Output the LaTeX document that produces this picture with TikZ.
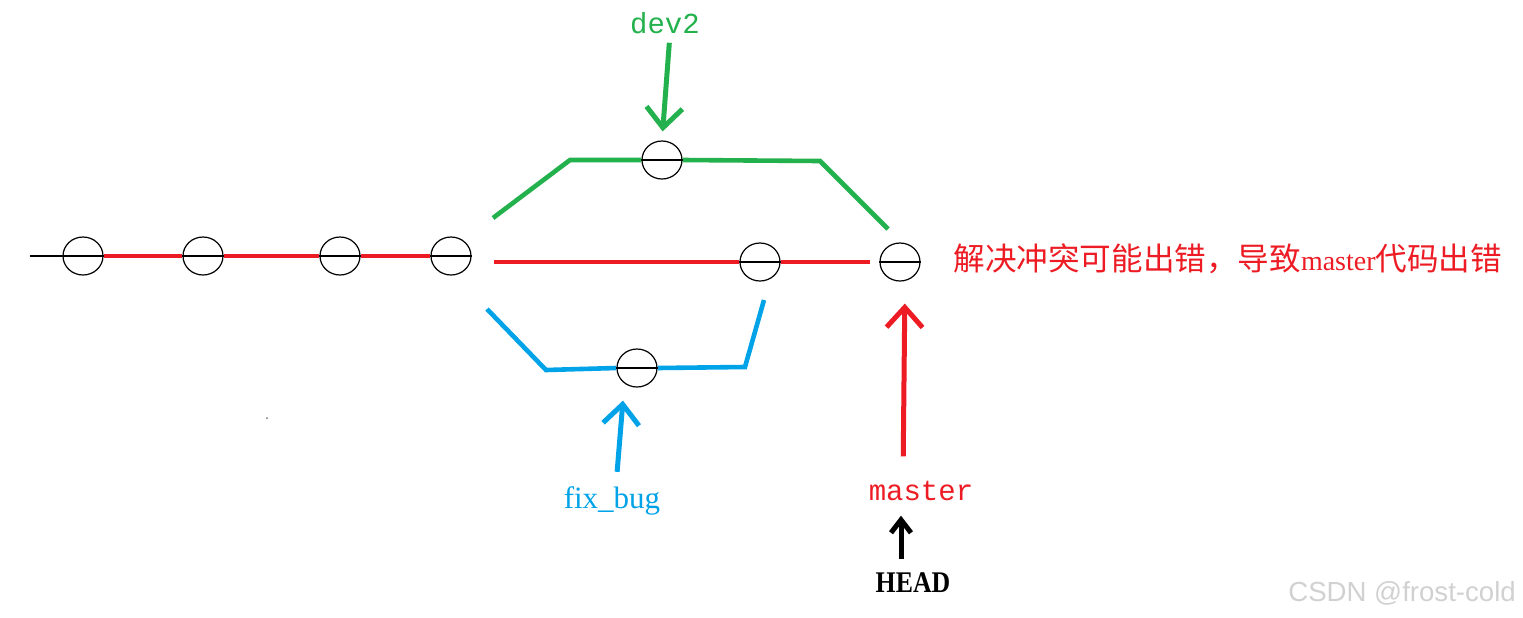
\documentclass[tikz,border=0pt]{standalone}
\usepackage{fontspec}
\setmainfont{Liberation Serif}
\newfontfamily\monofont{Liberation Mono}
\newfontfamily\cjk{Noto Sans CJK SC}
\newfontfamily\wmfont{Liberation Sans}
\usetikzlibrary{shapes.geometric,arrows.meta}
\definecolor{pgreen}{HTML}{22B14C}
\definecolor{pred}{HTML}{ED1C24}
\definecolor{pblue}{HTML}{00A2E8}
\tikzset{
  commit/.style={ellipse, draw=black, line width=0.6pt, minimum width=20pt, minimum height=19pt, inner sep=0pt},
  diam/.style={draw=black, line width=0.8pt},
  branchline/.style={line width=2.3pt, line join=miter},
  label/.style={inner sep=0pt, anchor=base},
  pointer/.style={line width=2.5pt, -{Straight Barb[length=10pt, width=18pt, line width=2.5pt]}},
  smallpointer/.style={line width=2.5pt, -{Straight Barb[length=6.5pt, width=10pt, line width=2.5pt]}},
}
\begin{document}
\begin{tikzpicture}[x=0.5pt, y=-0.5pt]
  \useasboundingbox (0,0) rectangle (1523,617);

  % commits on the main line
  \node[commit] (c1) at (83,256) {};
  \node[commit] (c2) at (203,256) {};
  \node[commit] (c3) at (340,256) {};
  \node[commit] (c4) at (451,256) {};
  % commits after the split
  \node[commit] (d1) at (662,160) {};
  \node[commit] (c6) at (760,262) {};
  \node[commit] (f1) at (637,368) {};
  \node[commit] (c7) at (900,262) {};

  % history before the first commit
  \coordinate (start) at (30,256);
  \draw[line width=1pt] (start) -- (c1.west);

  % master line
  \draw[branchline, pred] (c1.east) -- (c2.west);
  \draw[branchline, pred] (c2.east) -- (c3.west);
  \draw[branchline, pred] (c3.east) -- (c4.west);
  \coordinate (r0) at (494,262);
  \coordinate (r1) at (870,262);
  \draw[branchline, pred] (r0) -- (c6.west);
  \draw[branchline, pred] (c6.east) -- (r1);

  % dev2 branch
  \coordinate (g0) at (493,218);
  \coordinate (g1) at (570,160);
  \coordinate (g2) at (820,161);
  \coordinate (g3) at (888,229);
  \draw[branchline, pgreen] (g0) -- (g1) -- (d1.west);
  \draw[branchline, pgreen] (d1.east) -- (g2) -- (g3);

  % fix_bug branch
  \coordinate (b0) at (487,309);
  \coordinate (b1) at (546,370);
  \coordinate (b2) at (745,367);
  \coordinate (b3) at (764,300);
  \draw[branchline, pblue] (b0) -- (b1) -- (f1.west);
  \draw[branchline, pblue] (f1.east) -- (b2) -- (b3);

  % diameters inside the commits
  \foreach \n in {c1,c2,c3,c4,d1,c6,f1,c7}
    \draw[diam] (\n.west) -- (\n.east);

  % labels
  \node[label, text=pgreen, font=\monofont\fontsize{14.5pt}{16pt}\selectfont] (dev2) at (665,33) {dev2};
  \node[label, text=pblue, font=\fontsize{15.5pt}{17pt}\selectfont] (fixbug) at (612,508) {fix\_bug};
  \node[label, text=pred, font=\monofont\fontsize{14.5pt}{16pt}\selectfont] (master) at (921,500) {master};
  \node[label, text=black, font=\bfseries\fontsize{15pt}{17pt}\selectfont, xscale=0.86] (head) at (913,592) {HEAD};
  \node[inner sep=0pt, anchor=base west, text=pred, font=\cjk\fontsize{15.8pt}{17pt}\selectfont] (note) at (953,270)
    {解决冲突可能出错，导致{\rmfamily\fontsize{14pt}{16pt}\selectfont master}代码出错};
  \node[inner sep=0pt, anchor=base west, text=black!18, font=\wmfont\fontsize{13.8pt}{16pt}\selectfont] (wm) at (1288,601) {CSDN @frost-cold};

  % branch pointers
  \draw[pointer, pgreen, shorten <=4.5pt, shorten >=4.5pt]
    ([xshift=2.5pt]dev2.south) -- (d1.north);
  \draw[pointer, pblue, shorten <=7pt, shorten >=6.5pt]
    ([xshift=2pt]fixbug.north) -- ([xshift=-6.5pt]f1.south);
  \draw[pointer, pred, shorten <=12pt, shorten >=11pt]
    ([xshift=-9pt]master.north) -- ([xshift=2.5pt]c7.south);
  \draw[smallpointer, black, shorten <=6.5pt, shorten >=7.5pt]
    ([xshift=-6pt]head.north) -- ([xshift=-10pt]master.south);

  % stray speck
  \fill[black!55] (267,418) circle (1);
\end{tikzpicture}
\end{document}
